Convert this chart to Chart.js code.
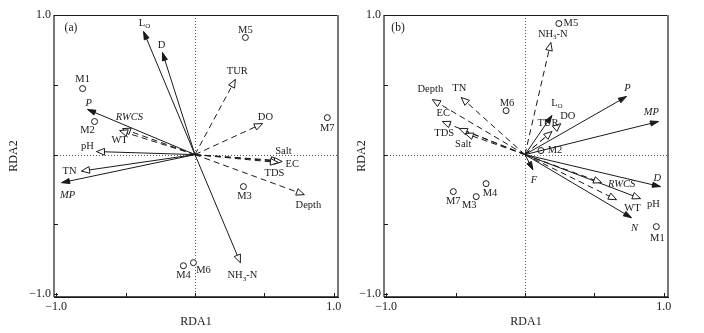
<!DOCTYPE html>
<html>
<head>
<meta charset="utf-8">
<script src="https://cdn.jsdelivr.net/npm/chart.js@4.4.1/dist/chart.umd.min.js"></script>
<style>
  body { margin: 0; background: #fff; }
  #wrap { position: relative; width: 704px; height: 333px; }
  .panel { position: absolute; top: 0; width: 352px; height: 333px; }
</style>
</head>
<body>
<div id="wrap">
  <div class="panel" style="left:0"><canvas id="chartA" width="352" height="333"></canvas></div>
  <div class="panel" style="left:352px"><canvas id="chartB" width="352" height="333"></canvas></div>
</div>
<script>
// ---- panel (a) ----
const aVarNames = ["L_O", "D", "P", "RWCS", "WT", "pH", "TN", "MP", "TUR", "DO", "Salt", "EC", "TDS", "Depth", "NH_3-N"];
const aVarX = [-0.370, -0.234, -0.773, -0.522, -0.543, -0.709, -0.817, -0.960, 0.291, 0.486, 0.608, 0.629, 0.601, 0.788, 0.327];
const aVarY = [0.882, 0.731, 0.323, 0.186, 0.172, 0.022, -0.118, -0.201, 0.538, 0.222, -0.043, -0.050, -0.057, -0.287, -0.774];
const aSiteNames = ["M1", "M2", "M3", "M4", "M5", "M6", "M7"];
const aSiteX = [-0.809, -0.723, 0.349, -0.083, 0.363, -0.011, 0.953];
const aSiteY = [0.473, 0.237, -0.229, -0.796, 0.839, -0.774, 0.265];

// ---- panel (b) ----
const bVarNames = ["Depth", "TN", "EC", "TDS", "Salt", "NH_3-N", "L_O", "DO", "TUR", "P", "MP", "F", "D", "RWCS", "pH", "WT", "N"];
const bVarX = [-0.667, -0.459, -0.595, -0.473, -0.430, 0.186, 0.194, 0.258, 0.194, 0.731, 0.961, 0.057, 0.975, 0.552, 0.832, 0.659, 0.767];
const bVarY = [0.394, 0.409, 0.237, 0.186, 0.151, 0.803, 0.280, 0.222, 0.165, 0.416, 0.237, -0.108, -0.229, -0.201, -0.315, -0.323, -0.452];
const bSiteNames = ["M1", "M2", "M3", "M4", "M5", "M6", "M7"];
const bSiteX = [0.946, 0.115, -0.351, -0.280, 0.244, -0.136, -0.516];
const bSiteY = [-0.516, 0.029, -0.301, -0.208, 0.939, 0.315, -0.265];

const axisTicks = [-1, -0.5, 0, 0.5, 1];
const tickText = { "-1": "\u22121.0", "1": "1.0" };

// line / head kind: solid = filled head, open = solid line + open head, dash = dashed + open head
const aKind = { "L_O": "solid", D: "solid", P: "solid", MP: "solid", RWCS: "dash", WT: "dash", pH: "open", TN: "open",
  TUR: "dash", DO: "dash", Salt: "dash", EC: "dash", TDS: "dash", Depth: "dash", "NH_3-N": "open" };
const bKind = { Depth: "dash", TN: "dash", EC: "dash", TDS: "dash", Salt: "dash", "NH_3-N": "dash", "L_O": "solid",
  DO: "dash", TUR: "dash", P: "solid", MP: "solid", F: "solid", D: "solid", RWCS: "dash", pH: "open", WT: "dash", N: "solid" };
const aItalic = ["P", "RWCS", "MP"];
const bItalic = ["P", "MP", "F", "D", "RWCS", "N"];

// label offsets (px) from arrow tip / site point
const aVarOff = { "L_O": [1, -8], D: [-1, -7], P: [1, -6], RWCS: [7, -11], WT: [0, 10], pH: [-9, -5], TN: [-12, 0],
  MP: [6, 13], TUR: [2, -8], DO: [3, -6], Salt: [4, -9], EC: [10, 3], TDS: [-4, 11], Depth: [4, 11], "NH_3-N": [2, 13] };
const aSiteOff = { M1: [0, -9], M2: [-7, 9], M3: [1, 10], M4: [0, 10], M5: [0, -7], M6: [10, 8], M7: [0, 11] };
const bVarOff = { Depth: [-2, -10], TN: [-2, -9], EC: [1, -8], TDS: [-15, 5], Salt: [-2, 11], "NH_3-N": [2, -8],
  "L_O": [5, -12], DO: [7, -7], TUR: [-4, -8], P: [1, -8], MP: [-7, -9], F: [1, 11], D: [-3, -8], RWCS: [20, 2],
  pH: [13, 6], WT: [16, 9], N: [3, 11], };
const bSiteOff = { M1: [1, 12], M2: [14, 0], M3: [-7, 9], M4: [4, 10], M5: [12, 0], M6: [1, -7], M7: [0, 10] };

const INK = "#1a1a1a";
const SERIF = "'Liberation Serif', 'DejaVu Serif', serif";

// draws text with "_x" subscripts, centred on (x, y)
function drawLabel(ctx, text, x, y, italic) {
  const parts = [];
  text.split(/(_\w)/).forEach(p => {
    if (!p) return;
    if (p[0] === "_") parts.push({ t: p.slice(1), sub: true });
    else parts.push({ t: p, sub: false });
  });
  const style = italic ? "italic " : "";
  let w = 0;
  parts.forEach(p => {
    ctx.font = style + (p.sub ? "7px " : "10.5px ") + SERIF;
    p.w = ctx.measureText(p.t).width;
    w += p.w;
  });
  let cx = x - w / 2;
  ctx.textAlign = "left";
  ctx.textBaseline = "middle";
  ctx.fillStyle = INK;
  parts.forEach(p => {
    ctx.font = style + (p.sub ? "7px " : "10.5px ") + SERIF;
    ctx.fillText(p.t, cx, p.sub ? y + 3 : y);
    cx += p.w;
  });
}

function arrowHead(ctx, from, to, kind) {
  const ang = Math.atan2(to.y - from.y, to.x - from.x);
  const len = 8;
  const half = kind === "solid" ? 2.6 : 3.4;
  const bx = to.x - len * Math.cos(ang), by = to.y - len * Math.sin(ang);
  const px = -Math.sin(ang) * half, py = Math.cos(ang) * half;
  ctx.save();
  ctx.setLineDash([]);
  ctx.beginPath();
  ctx.moveTo(to.x, to.y);
  ctx.lineTo(bx + px, by + py);
  ctx.lineTo(bx - px, by - py);
  ctx.closePath();
  ctx.lineWidth = 1;
  ctx.strokeStyle = INK;
  ctx.fillStyle = kind === "solid" ? INK : "#fff";
  ctx.fill();
  ctx.stroke();
  ctx.restore();
}

const biplotPlugin = {
  id: "biplot",
  beforeDatasetsDraw(chart) {
    const { ctx, chartArea: a, scales } = chart;
    const x0 = scales.x.getPixelForValue(0), y0 = scales.y.getPixelForValue(0);
    ctx.save();
    // zero lines
    ctx.setLineDash([1, 2]);
    ctx.strokeStyle = "#555";
    ctx.lineWidth = 1;
    ctx.beginPath();
    ctx.moveTo(Math.round(x0) + 0.5, a.top);
    ctx.lineTo(Math.round(x0) + 0.5, a.bottom);
    ctx.moveTo(a.left, Math.round(y0) + 0.5);
    ctx.lineTo(a.right, Math.round(y0) + 0.5);
    ctx.stroke();
    ctx.setLineDash([]);
    // frame
    ctx.strokeStyle = INK;
    ctx.lineWidth = 1;
    ctx.strokeRect(a.left + 0.5, a.top + 0.5, a.width, a.height);
    ctx.strokeStyle = "#777";
    ctx.lineWidth = 2;
    ctx.beginPath();
    ctx.moveTo(a.left, a.top); ctx.lineTo(a.left, a.bottom);
    ctx.moveTo(a.right, a.top); ctx.lineTo(a.right, a.bottom);
    ctx.stroke();
    ctx.strokeStyle = INK;
    ctx.lineWidth = 1.5;
    ctx.beginPath();
    ctx.moveTo(a.left, a.bottom); ctx.lineTo(a.right, a.bottom);
    ctx.stroke();
    // inward ticks
    ctx.lineWidth = 1;
    ctx.beginPath();
    axisTicks.forEach(v => {
      const px = Math.round(scales.x.getPixelForValue(v)) + 0.5;
      ctx.moveTo(px, a.bottom); ctx.lineTo(px, a.bottom - 4);
      const py = Math.round(scales.y.getPixelForValue(v)) + 0.5;
      ctx.moveTo(a.left, py); ctx.lineTo(a.left + 4, py);
    });
    ctx.stroke();
    ctx.restore();
  },
  afterDatasetsDraw(chart) {
    const { ctx, chartArea: a } = chart;
    const o = chart.options.plugins.biplot;
    ctx.save();
    chart.data.datasets.forEach((ds, i) => {
      const meta = chart.getDatasetMeta(i);
      if (ds.kind) {
        const from = meta.data[0], to = meta.data[1];
        arrowHead(ctx, from, to, ds.kind);
        const off = o.varOff[ds.label] || [0, -8];
        drawLabel(ctx, ds.label, to.x + off[0], to.y + off[1], o.italic.includes(ds.label));
      } else {
        meta.data.forEach((pt, j) => {
          const name = o.siteNames[j];
          const off = o.siteOff[name] || [0, 10];
          drawLabel(ctx, name, pt.x + off[0], pt.y + off[1], false);
        });
      }
    });
    ctx.font = "11.5px " + SERIF;
    ctx.textAlign = "center";
    ctx.textBaseline = "middle";
    ctx.fillStyle = INK;
    ctx.fillText(o.tag, a.left + o.tagOff[0], a.top + o.tagOff[1]);
    ctx.restore();
  }
};

function makeChart(id, p) {
  const arrows = p.names.map((n, i) => ({
    label: n,
    kind: p.kind[n],
    data: [{ x: 0, y: 0 }, { x: p.x[i], y: p.y[i] }],
    showLine: true,
    borderColor: INK,
    borderWidth: 1,
    borderDash: p.kind[n] === "dash" ? [6, 4] : [],
    pointRadius: 0,
    fill: false
  }));
  const sites = {
    label: "sites",
    data: p.siteNames.map((n, i) => ({ x: p.siteX[i], y: p.siteY[i] })),
    showLine: false,
    pointStyle: "circle",
    pointRadius: 3,
    borderWidth: 1,
    borderColor: INK,
    backgroundColor: "#fff"
  };
  const tickCb = v => tickText[String(v)] || "";
  return new Chart(document.getElementById(id), {
    type: "scatter",
    data: { datasets: [...arrows, sites] },
    options: {
      responsive: false,
      animation: false,
      layout: { padding: p.padding },
      plugins: {
        legend: { display: false },
        tooltip: { enabled: false },
        biplot: { varOff: p.varOff, siteOff: p.siteOff, siteNames: p.siteNames, italic: p.italic, tag: p.tag, tagOff: p.tagOff }
      },
      scales: {
        x: {
          type: "linear", min: -1.015, max: 1.03,
          grid: { display: false, drawTicks: false }, border: { display: false },
          ticks: { stepSize: 0.5, includeBounds: false, autoSkip: false, maxRotation: 0, padding: 3,
            color: INK, font: { family: SERIF, size: 12 }, callback: tickCb },
          title: { display: true, text: "RDA1", color: INK, font: { family: SERIF, size: 12 }, padding: { top: 0, bottom: 4 } },
          afterFit: s => { s.height = 36; }
        },
        y: {
          type: "linear", min: -1.02, max: 1.0,
          grid: { display: false, drawTicks: false }, border: { display: false },
          ticks: { stepSize: 0.5, includeBounds: false, autoSkip: false, padding: 3,
            color: INK, font: { family: SERIF, size: 12 }, callback: tickCb },
          title: { display: true, text: "RDA2", color: INK, font: { family: SERIF, size: 12 }, padding: 0 },
          afterFit: s => { s.width = p.yWidth; }
        }
      }
    },
    plugins: [biplotPlugin]
  });
}

makeChart("chartA", {
  names: aVarNames, x: aVarX, y: aVarY, kind: aKind, italic: aItalic, varOff: aVarOff,
  siteNames: aSiteNames, siteX: aSiteX, siteY: aSiteY, siteOff: aSiteOff,
  tag: "(a)", tagOff: [17, 13],
  padding: { left: 7, right: 14, top: 15, bottom: 0 }, yWidth: 47
});
makeChart("chartB", {
  names: bVarNames, x: bVarX, y: bVarY, kind: bKind, italic: bItalic, varOff: bVarOff,
  siteNames: bSiteNames, siteX: bSiteX, siteY: bSiteY, siteOff: bSiteOff,
  tag: "(b)", tagOff: [14, 13],
  padding: { left: 3, right: 36, top: 15, bottom: 0 }, yWidth: 29
});
</script>
</body>
</html>
